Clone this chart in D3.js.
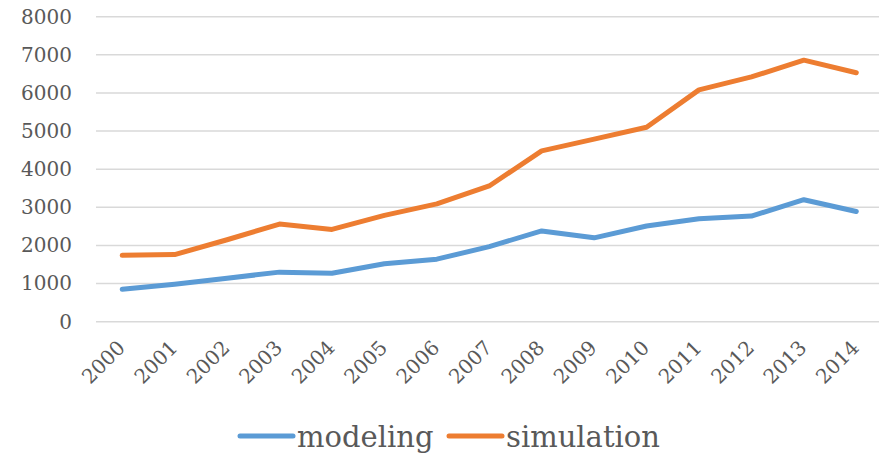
<!DOCTYPE html>
<html>
<head>
<meta charset="utf-8">
<script src="https://cdn.jsdelivr.net/npm/d3@7"></script>
<style>
    body { margin: 0; background: #fff; }
    svg text { font-family: "DejaVu Serif", serif; fill: #595959; }
</style>
</head>
<body>
<svg id="chart" width="879" height="454"></svg>
<script>
// chart data
const years = ["2000","2001","2002","2003","2004","2005","2006","2007","2008","2009","2010","2011","2012","2013","2014"];
const modeling = [850, 980, 1140, 1300, 1270, 1520, 1640, 1970, 2380, 2200, 2510, 2700, 2770, 3200, 2890];
const simulation = [1740, 1760, 2150, 2560, 2420, 2790, 3090, 3560, 4480, 4790, 5100, 6080, 6420, 6860, 6530];
const yTicks = [0, 1000, 2000, 3000, 4000, 5000, 6000, 7000, 8000];

const svg = d3.select("#chart");

const x = d3.scaleBand().domain(years).range([96, 882.5]);
const y = d3.scaleLinear().domain([0, 8000]).range([321.7, 16.7]);

// grid lines
svg.append("g").selectAll("line")
    .data(yTicks)
    .join("line")
    .attr("x1", 96).attr("x2", 882)
    .attr("y1", d => y(d)).attr("y2", d => y(d))
    .attr("stroke", "#d9d9d9").attr("stroke-width", 1.5);

// y labels
const yAxis = svg.append("g")
    .attr("transform", "translate(72,0)")
    .call(d3.axisLeft(y).tickValues(yTicks).tickFormat(d3.format("d")).tickSize(0).tickPadding(0));
yAxis.select(".domain").remove();
yAxis.selectAll("text")
    .attr("font-size", 20)
    .attr("font-family", "DejaVu Serif")
    .attr("fill", "#595959");

// x labels, rotated
svg.append("g").selectAll("text")
    .data(years)
    .join("text")
    .attr("transform", d => `translate(${x(d) + x.bandwidth() / 2 + 4},349) rotate(-45)`)
    .attr("text-anchor", "end")
    .attr("font-size", 20)
    .text(d => d);

// lines
const line = d3.line()
    .x((d, i) => x(years[i]) + x.bandwidth() / 2)
    .y(d => y(d));

const series = [
    {name: "modeling", values: modeling, color: "#5b9bd5"},
    {name: "simulation", values: simulation, color: "#ed7d31"}
];

svg.append("g").selectAll("path")
    .data(series)
    .join("path")
    .attr("d", d => line(d.values))
    .attr("fill", "none")
    .attr("stroke", d => d.color)
    .attr("stroke-width", 5)
    .attr("stroke-linecap", "round")
    .attr("stroke-linejoin", "round");

// legend
const legendX = [240, 449];
const legend = svg.append("g").selectAll("g")
    .data(series)
    .join("g")
    .attr("transform", (d, i) => `translate(${legendX[i]},436)`);
legend.append("line")
    .attr("x1", 0).attr("x2", 53)
    .attr("stroke", d => d.color)
    .attr("stroke-width", 5)
    .attr("stroke-linecap", "round");
legend.append("text")
    .attr("x", 57).attr("y", 11)
    .attr("font-size", 29)
    .text(d => d.name);
</script>
</body>
</html>
